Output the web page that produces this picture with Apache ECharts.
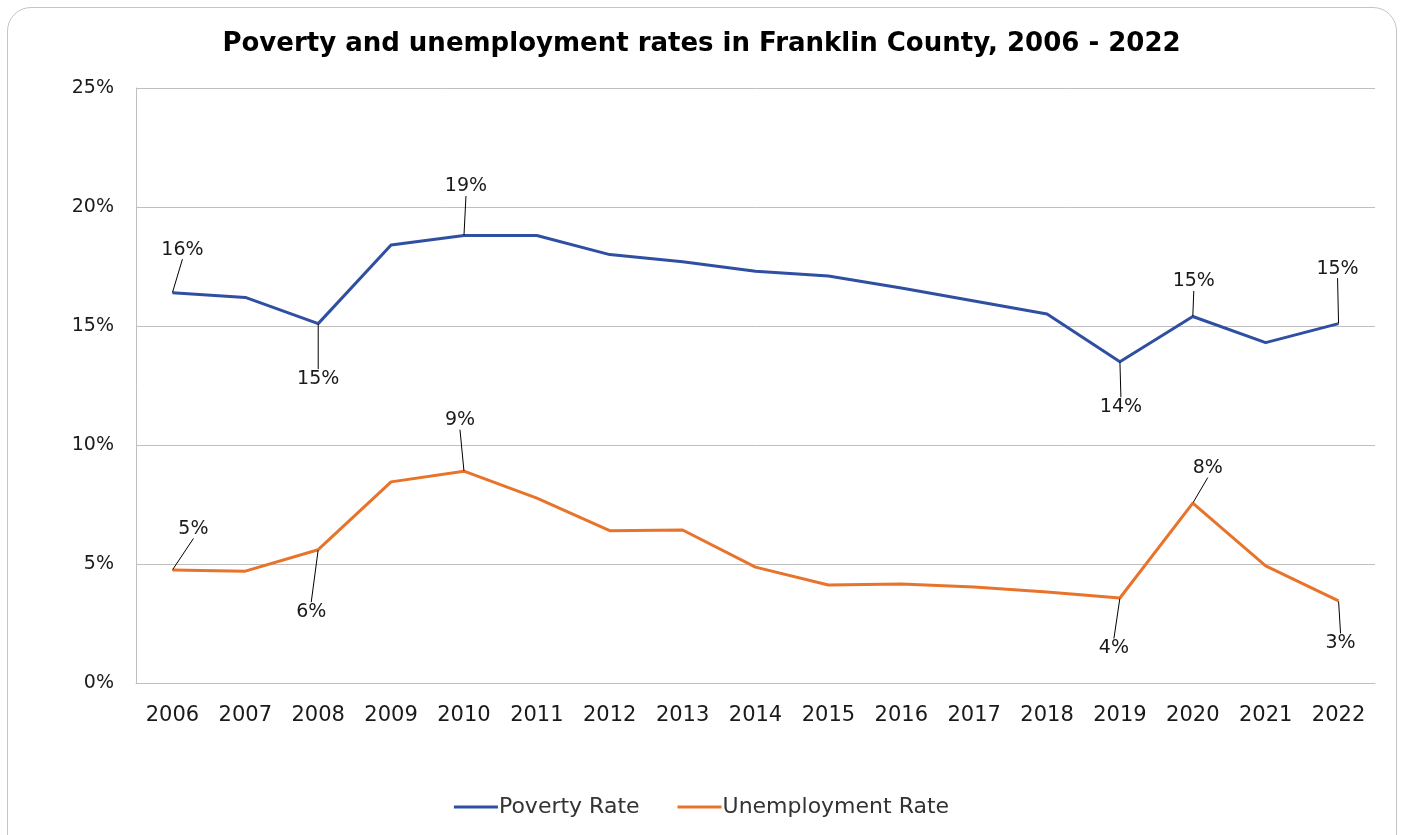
<!DOCTYPE html>
<html>
<head>
<meta charset="utf-8">
<script src="https://cdn.jsdelivr.net/npm/echarts@6/dist/echarts.min.js"></script>
<style>
html,body{margin:0;padding:0;background:#fff;}
#frame{position:absolute;left:7px;top:7px;width:1390px;height:860px;border:1px solid #c4c4c4;border-radius:24px;box-sizing:border-box;}
#chart{position:absolute;left:0;top:0;width:1403px;height:835px;}
</style>
</head>
<body>
<div id="frame"></div>
<div id="chart"></div>
<script>
const years = ['2006','2007','2008','2009','2010','2011','2012','2013','2014','2015','2016','2017','2018','2019','2020','2021','2022'];
const povertyRate = [16.4,16.2,15.1,18.4,18.8,18.8,18.0,17.7,17.3,17.1,16.6,16.05,15.5,13.5,15.4,14.3,15.1];
const unemploymentRate = [4.75,4.7,5.6,8.45,8.9,7.77,6.4,6.43,4.87,4.12,4.16,4.03,3.82,3.57,7.56,4.92,3.45];
const yTicks = [0,5,10,15,20,25];
const labelledIdx = [0,2,4,13,14,16];
// label offsets (px) from the point, for the labelled points
const povertyOffsets = {0:[10,-43],2:[0,55],4:[2,-49],13:[1,45],14:[1,-35],16:[-1,-55]};
const unempOffsets = {0:[21,-41],2:[-7,62],4:[-4,-51],13:[-6,50],14:[15,-35],16:[2,42]};

const FONT = '"DejaVu Sans"';
function mkData(vals){
  return vals.map((v,i)=>({
    value: v,
    label: {show: labelledIdx.indexOf(i) >= 0}
  }));
}
function mkSeries(name, vals, color, offs){
  return {
    name: name,
    type: 'line',
    data: mkData(vals),
    symbol: 'circle',
    symbolSize: 1,
    showSymbol: true,
    itemStyle: {color: color},
    lineStyle: {color: color, width: 3},
    emphasis: {disabled: true},
    label: {
      show: false,
      position: 'inside',
      formatter: p => Math.round(p.value) + '%',
      color: '#1a1a1a',
      fontFamily: FONT,
      fontSize: 19
    },
    labelLine: {show: true, lineStyle: {color: '#000', width: 1}},
    labelLayout: function(params){
      const o = offs[params.dataIndex];
      if (!o) return {};
      return {dx: o[0], dy: o[1]};
    }
  };
}
const chart = echarts.init(document.getElementById('chart'), null, {renderer: 'canvas'});
chart.setOption({
  animation: false,
  title: {
    text: 'Poverty and unemployment rates in Franklin County, 2006 - 2022',
    left: 'center',
    top: 26,
    textStyle: {fontFamily: FONT, fontWeight: 'bold', fontSize: 26, color: '#000'}
  },
  legend: {
    bottom: 12,
    left: 'center',
    itemWidth: 44,
    itemHeight: 3,
    itemGap: 38,
    icon: 'rect',
    textStyle: {fontFamily: FONT, fontSize: 22, color: '#333', padding: [0,0,0,-4]},
    data: ['Poverty Rate','Unemployment Rate']
  },
  grid: {left: 136, right: 28, top: 88, bottom: 152, containLabel: false},
  xAxis: {
    type: 'category',
    data: years,
    boundaryGap: true,
    axisLine: {show: true, lineStyle: {color: '#bfbfbf', width: 1}},
    axisTick: {show: false},
    axisLabel: {fontFamily: FONT, fontSize: 21, color: '#1a1a1a', margin: 22}
  },
  yAxis: {
    type: 'value',
    min: yTicks[0],
    max: yTicks[yTicks.length-1],
    interval: 5,
    axisLine: {show: true, lineStyle: {color: '#bfbfbf', width: 1}},
    axisTick: {show: false},
    splitLine: {lineStyle: {color: '#bfbfbf', width: 1}},
    axisLabel: {fontFamily: FONT, fontSize: 19, color: '#1a1a1a', margin: 22, formatter: v => v + '%'}
  },
  series: [
    mkSeries('Poverty Rate', povertyRate, '#2F4FA2', povertyOffsets),
    mkSeries('Unemployment Rate', unemploymentRate, '#E8732A', unempOffsets)
  ]
});
</script>
</body>
</html>
